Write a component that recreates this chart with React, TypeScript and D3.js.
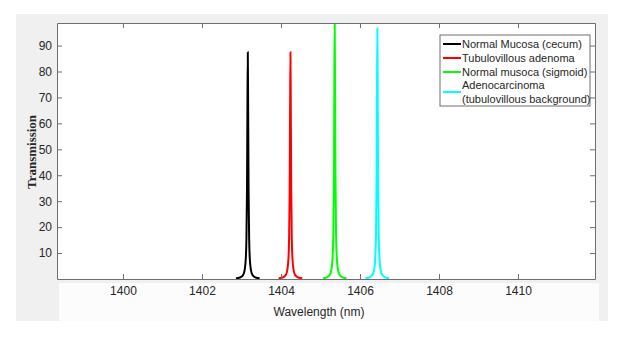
import { useEffect, useRef } from "react";
import * as d3 from "d3";

// peak samples (wavelength in nm, transmission)
const mucosaCecumWl = [1402.86, 1402.96, 1403.04, 1403.08, 1403.11, 1403.125, 1403.14, 1403.15, 1403.16, 1403.17, 1403.18, 1403.195, 1403.21, 1403.24, 1403.28, 1403.36, 1403.46];
const mucosaCecumT = [0.25, 0.56, 1.5, 3.4, 8.1, 15.1, 34.1, 62.9, 87.4, 62.9, 34.1, 15.1, 8.1, 3.4, 1.5, 0.56, 0.25];

const adenomaWl = [1403.94, 1404.04, 1404.12, 1404.16, 1404.19, 1404.205, 1404.22, 1404.23, 1404.24, 1404.25, 1404.26, 1404.275, 1404.29, 1404.32, 1404.36, 1404.44, 1404.54];
const adenomaT = [0.25, 0.56, 1.5, 3.4, 8.1, 15.1, 34.1, 62.9, 87.4, 62.9, 34.1, 15.1, 8.1, 3.4, 1.5, 0.56, 0.25];

const mucosaSigmoidWl = [1405.06, 1405.16, 1405.24, 1405.28, 1405.31, 1405.325, 1405.34, 1405.35, 1405.36, 1405.37, 1405.38, 1405.395, 1405.41, 1405.44, 1405.48, 1405.56, 1405.66];
const mucosaSigmoidT = [0.28, 0.64, 1.75, 3.85, 9.3, 17.3, 39.0, 72.0, 100, 72.0, 39.0, 17.3, 9.3, 3.85, 1.75, 0.64, 0.28];

const adenocarcinomaWl = [1406.14, 1406.24, 1406.32, 1406.36, 1406.39, 1406.405, 1406.42, 1406.43, 1406.44, 1406.45, 1406.46, 1406.475, 1406.49, 1406.52, 1406.56, 1406.64, 1406.74];
const adenocarcinomaT = [0.27, 0.62, 1.7, 3.7, 9.0, 16.7, 37.7, 69.6, 96.7, 69.6, 37.7, 16.7, 9.0, 3.7, 1.7, 0.62, 0.27];

const seriesNames = ["Normal Mucosa (cecum)", "Tubulovillous adenoma", "Normal musoca (sigmoid)", "Adenocarcinoma\n(tubulovillous background)"];
const seriesColors = ["#000000", "#ff0000", "#00ff00", "#00ffff"];

const xTicks = [1400, 1402, 1404, 1406, 1408, 1410];
const yTicks = [10, 20, 30, 40, 50, 60, 70, 80, 90];

export default function App() {
  const ref = useRef<SVGSVGElement | null>(null);

  useEffect(() => {
    const svg = d3.select(ref.current);
    svg.selectAll("*").remove();

    const W = 623, H = 338;
    const margin = { left: 57, right: 28, top: 23, bottom: 59 };
    const innerW = W - margin.left - margin.right;
    const innerH = H - margin.top - margin.bottom;
    const axisColor = "#6e6e6e";
    const textColor = "#262626";

    // figure background like MATLAB
    svg.append("rect").attr("x", 16).attr("y", 14).attr("width", 592).attr("height", 307).attr("fill", "#f0f0f0");
    svg.append("rect").attr("x", 59).attr("y", 283).attr("width", 540).attr("height", 38).attr("fill", "#fcfcfc");

    const x = d3.scaleLinear().domain([1398.33, 1411.95]).range([0, innerW]);
    const y = d3.scaleLinear().domain([0, 98.7]).range([innerH, 0]);

    const g = svg.append("g").attr("transform", `translate(${margin.left},${margin.top})`);

    g.append("rect").attr("width", innerW).attr("height", innerH).attr("fill", "#ffffff");

    svg.append("defs").append("clipPath").attr("id", "plotClip")
      .append("rect").attr("width", innerW).attr("height", innerH);

    const series = [
      { wl: mucosaCecumWl, t: mucosaCecumT },
      { wl: adenomaWl, t: adenomaT },
      { wl: mucosaSigmoidWl, t: mucosaSigmoidT },
      { wl: adenocarcinomaWl, t: adenocarcinomaT },
    ];

    const line = d3.line<[number, number]>()
      .x((d) => x(d[0]))
      .y((d) => y(d[1]))
      .curve(d3.curveMonotoneX);

    const plot = g.append("g").attr("clip-path", "url(#plotClip)");
    series.forEach((s, i) => {
      const pts = s.wl.map((w, j) => [w, s.t[j]] as [number, number]);
      plot.append("path")
        .attr("d", line(pts))
        .attr("fill", "none")
        .attr("stroke", seriesColors[i])
        .attr("stroke-width", 2);
    });

    // axes (ticks inward, mirrored on top/right)
    const font = "Arial, 'Liberation Sans', sans-serif";
    const xAxis = g.append("g").attr("transform", `translate(0,${innerH})`)
      .call(d3.axisBottom(x).tickValues(xTicks).tickFormat(d3.format("d")).tickSizeInner(-5).tickSizeOuter(0).tickPadding(7));
    const xTop = g.append("g")
      .call(d3.axisTop(x).tickValues(xTicks).tickFormat(() => "").tickSizeInner(-5).tickSizeOuter(0));
    const yAxis = g.append("g")
      .call(d3.axisLeft(y).tickValues(yTicks).tickFormat(d3.format("d")).tickSizeInner(-5).tickSizeOuter(0).tickPadding(5));
    const yRight = g.append("g").attr("transform", `translate(${innerW},0)`)
      .call(d3.axisRight(y).tickValues(yTicks).tickFormat(() => "").tickSizeInner(-5).tickSizeOuter(0));

    [xAxis, xTop, yAxis, yRight].forEach((a) => {
      a.selectAll(".domain").attr("stroke", axisColor);
      a.selectAll(".tick line").attr("stroke", axisColor);
      a.selectAll(".tick text").attr("fill", textColor).style("font-family", font).style("font-size", "12px");
    });

    // legend
    const lg = g.append("g").attr("transform", `translate(${440 - margin.left},${35 - margin.top})`);
    lg.append("rect").attr("width", 150).attr("height", 71).attr("fill", "#ffffff").attr("stroke", axisColor).attr("stroke-width", 1);
    const rows = [9, 23, 37, 57];
    seriesNames.forEach((name, i) => {
      const ry = rows[i];
      lg.append("line").attr("x1", 3).attr("x2", 21).attr("y1", ry).attr("y2", ry)
        .attr("stroke", seriesColors[i]).attr("stroke-width", 2);
      const parts = name.split("\n");
      const t = lg.append("text")
        .attr("x", 22)
        .attr("y", parts.length > 1 ? ry - 6.5 : ry)
        .attr("fill", textColor)
        .style("font-family", font)
        .style("font-size", "11px");
      parts.forEach((p, k) => {
        t.append("tspan").attr("x", 22).attr("dy", k === 0 ? "0.35em" : "13.5px").text(p);
      });
    });

    // axis titles
    svg.append("text")
      .attr("x", 319).attr("y", 316)
      .attr("text-anchor", "middle")
      .attr("fill", textColor)
      .style("font-family", font)
      .style("font-size", "12px")
      .text("Wavelength (nm)");

    svg.append("text")
      .attr("transform", `translate(36,${152}) rotate(-90)`)
      .attr("text-anchor", "middle")
      .attr("fill", textColor)
      .style("font-family", "'Liberation Serif', 'Times New Roman', serif")
      .style("font-weight", "bold")
      .style("font-size", "13px")
      .text("Transmission");
  }, []);

  return (
    <svg
      ref={ref}
      width={623}
      height={338}
      style={{ position: "absolute", left: 0, top: 0, background: "#ffffff" }}
    />
  );
}
